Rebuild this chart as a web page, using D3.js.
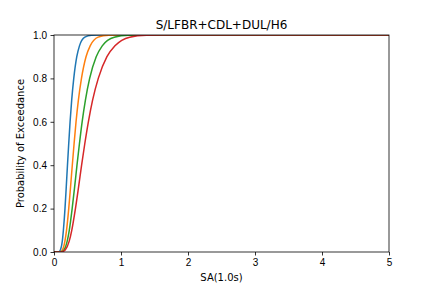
<!DOCTYPE html>
<html>
<head>
<meta charset="utf-8">
<script src="https://cdn.jsdelivr.net/npm/d3@7"></script>
<style>
body { margin: 0; background: #fff; }
svg { display: block; font-family: "DejaVu Sans", sans-serif; }
.tick text { font-size: 10px; fill: #000; }
.tick line { stroke: #000; stroke-width: 0.8px; }
.domain { display: none; }
</style>
</head>
<body>
<svg width="432" height="288"></svg>
<script>
// chart values
const title = "S/LFBR+CDL+DUL/H6"
const xLabel = "SA(1.0s)"
const yLabel = "Probability of Exceedance"
const xTicks = [0, 1, 2, 3, 4, 5]
const yTicks = [0.0, 0.2, 0.4, 0.6, 0.8, 1.0]

// probability levels shared by every curve
const probs = [0, 0, 0.001, 0.01, 0.05, 0.1, 0.2, 0.3, 0.4, 0.5, 0.6, 0.7, 0.8, 0.9, 0.95, 0.99, 0.999, 1, 1]

// SA at each probability level, per curve
const blueSA   = [0, 0.060, 0.075, 0.097, 0.124, 0.140, 0.164, 0.183, 0.201, 0.220, 0.240, 0.264, 0.295, 0.340, 0.380, 0.460, 0.560, 0.66, 5]
const orangeSA = [0, 0.080, 0.096, 0.127, 0.163, 0.187, 0.220, 0.247, 0.273, 0.300, 0.329, 0.364, 0.410, 0.478, 0.540, 0.660, 0.820, 0.96, 5]
const greenSA  = [0, 0.095, 0.110, 0.150, 0.197, 0.228, 0.271, 0.308, 0.343, 0.380, 0.420, 0.469, 0.532, 0.630, 0.720, 0.900, 1.120, 1.32, 5]
const redSA    = [0, 0.110, 0.122, 0.169, 0.227, 0.265, 0.320, 0.367, 0.412, 0.460, 0.513, 0.576, 0.661, 0.790, 0.910, 1.130, 1.380, 1.62, 5]

const curves = [
	{color: "#1f77b4", sa: blueSA},
	{color: "#ff7f0e", sa: orangeSA},
	{color: "#2ca02c", sa: greenSA},
	{color: "#d62728", sa: redSA}
]

const svg = d3.select("svg")

//plot area edges
const plotL = 54, plotR = 389, plotT = 35, plotB = 252

const xScale = d3.scaleLinear()
	.domain([0, 5])
	.range([plotL, plotR])

const yScale = d3.scaleLinear()
	.domain([0, 1])
	.range([plotB, plotT])

svg.append("defs")
	.append("clipPath")
	.attr("id", "plot")
	.append("rect")
	.attr("x", plotL)
	.attr("y", plotT)
	.attr("width", plotR - plotL)
	.attr("height", plotB - plotT)

const line = d3.line()
	.x(d => xScale(d[0]))
	.y(d => yScale(d[1]))
	.curve(d3.curveMonotoneX)

svg.append("g")
	.attr("clip-path", "url(#plot)")
	.selectAll("path")
	.data(curves)
	.enter()
	.append("path")
	.attr("fill", "none")
	.attr("stroke", d => d.color)
	.attr("stroke-width", 1.5)
	.attr("d", d => line(d.sa.map((s, i) => [s, probs[i]])))

//axes
svg.append("g")
	.attr("transform", `translate(0,${plotB})`)
	.call(d3.axisBottom(xScale).tickValues(xTicks).tickSize(3.5).tickPadding(3.5).tickFormat(d3.format("d")))

svg.append("g")
	.attr("transform", `translate(${plotL},0)`)
	.call(d3.axisLeft(yScale).tickValues(yTicks).tickSize(3.5).tickPadding(3.5).tickFormat(d3.format(".1f")))

//spines
svg.append("rect")
	.attr("x", plotL)
	.attr("y", plotT)
	.attr("width", plotR - plotL)
	.attr("height", plotB - plotT)
	.attr("fill", "none")
	.attr("stroke", "#000")
	.attr("stroke-width", 0.8)

//texts
svg.append("text")
	.attr("x", (plotL + plotR) / 2)
	.attr("y", 29)
	.attr("text-anchor", "middle")
	.style("font-size", "12px")
	.text(title)

svg.append("text")
	.attr("x", (plotL + plotR) / 2)
	.attr("y", 281)
	.attr("text-anchor", "middle")
	.style("font-size", "10px")
	.text(xLabel)

svg.append("text")
	.attr("transform", `translate(24,${(plotT + plotB) / 2}) rotate(-90)`)
	.attr("text-anchor", "middle")
	.style("font-size", "10px")
	.text(yLabel)
</script>
</body>
</html>
